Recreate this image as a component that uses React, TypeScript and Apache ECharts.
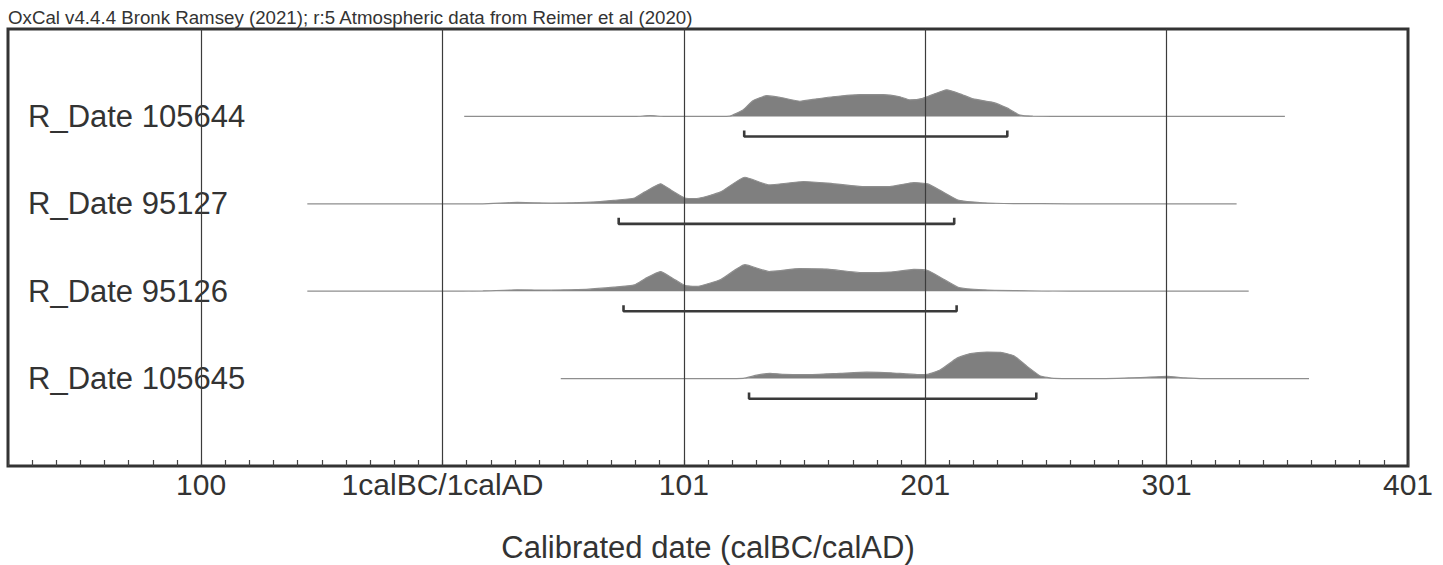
import React, { useEffect, useRef } from "react";
import * as echarts from "echarts";

// ---- data ----
const TITLE_TEXT =
  "OxCal v4.4.4 Bronk Ramsey (2021); r:5 Atmospheric data from Reimer et al (2020)";
const AXIS_NAME = "Calibrated date (calBC/calAD)";

// x axis: years relative to the 1calBC/1calAD boundary
const X_MIN = -180;
const X_MAX = 400;
const TICK_VALUES = [-100, 0, 100, 200, 300, 400];
const TICK_LABELS = ["100", "1calBC/1calAD", "101", "201", "301", "401"];

const ROW_LABELS = ["R_Date 105644", "R_Date 95127", "R_Date 95126", "R_Date 105645"];
const ROW_POSITIONS = [4, 3, 2, 1];

// relative probability (peak = 1) at calendar year
const DIST_105644: [number, number][] = [
  [9, 0], [80, 0], [86, 0.03], [92, 0], [115, 0], [119, 0.01], [124.5, 0.24],
  [128.6, 0.59], [134.4, 0.78], [139.8, 0.72], [148.1, 0.57], [155.1, 0.66],
  [161.8, 0.74], [173, 0.82], [182.5, 0.82], [189.5, 0.74], [193.7, 0.62],
  [199, 0.68], [209, 1.0], [214.4, 0.85], [219.8, 0.66], [228, 0.53],
  [233.8, 0.32], [239.2, 0.05], [244.6, 0.01], [260, 0], [349, 0],
];
const DIST_95127: [number, number][] = [
  [-56, 0], [0, 0], [16.7, 0], [31, 0.05], [45, 0.03], [59.6, 0.05], [71, 0.13],
  [79.6, 0.22], [83.9, 0.45], [90.3, 0.75], [95.3, 0.48], [100.3, 0.22],
  [105.3, 0.2], [115.3, 0.45], [125.3, 1.0], [135.3, 0.71], [149.6, 0.84],
  [159.6, 0.78], [173.9, 0.65], [185.3, 0.65], [195.3, 0.8], [201, 0.75],
  [206.7, 0.48], [213.9, 0.13], [223.9, 0.04], [236.7, 0.01], [260, 0], [329, 0],
];
const DIST_95126: [number, number][] = [
  [-56, 0], [0, 0], [16.7, 0.01], [31, 0.05], [45, 0.04], [59.6, 0.07], [71, 0.15],
  [79.6, 0.24], [83.9, 0.47], [90.3, 0.74], [95.3, 0.49], [100.3, 0.22],
  [105.3, 0.18], [115.3, 0.44], [125.3, 1.0], [135.3, 0.74], [148, 0.85],
  [159.6, 0.83], [173.9, 0.7], [185.3, 0.72], [195.3, 0.82], [201, 0.78],
  [206.7, 0.5], [213.9, 0.14], [223.9, 0.05], [236.7, 0.02], [260, 0], [334, 0],
];
const DIST_105645: [number, number][] = [
  [49, 0], [116, 0], [124.6, 0.01], [130.2, 0.13], [135.7, 0.2], [141.2, 0.16],
  [150.9, 0.15], [164.8, 0.2], [175.8, 0.24], [185.5, 0.22], [196.6, 0.15],
  [201, 0.16], [206.3, 0.33], [213.2, 0.77], [218.7, 0.94], [225.6, 1.0],
  [231.2, 0.99], [236.7, 0.86], [242.2, 0.46], [247.7, 0.1], [253.3, 0.01],
  [270, 0], [289.2, 0.04], [300.3, 0.08], [307.2, 0.03], [315.5, 0], [359, 0],
];
const DISTRIBUTIONS = [DIST_105644, DIST_95127, DIST_95126, DIST_105645];

// 95.4% ranges (brackets)
const HPD_FROM = [125, 73, 75, 127];
const HPD_TO = [234, 212, 213, 246];

// ---- styling ----
const FONT = "'Liberation Sans', Arial, sans-serif";
const INK = "#333333";
const PEAK = 0.304; // row units for a relative probability of 1
const BRACKET_DROP = 0.23;
const BRACKET_TICK = 0.07;

export default function App() {
  const ref = useRef<HTMLDivElement>(null);

  useEffect(() => {
    if (!ref.current) return;
    const chart = echarts.init(ref.current, null, { renderer: "svg" });

    const series: any[] = [];

    DISTRIBUTIONS.forEach((dist, i) => {
      const base = ROW_POSITIONS[i];
      series.push({
        type: "line",
        name: ROW_LABELS[i],
        data: dist.map(([x, p]) => [x, base + p * PEAK]),
        symbol: "none",
        smooth: 0.15,
        lineStyle: { color: "#8e8e8e", width: 1.2 },
        areaStyle: { color: "#7f7f7f", opacity: 1, origin: base },
        z: 2,
        silent: true,
      });
      const yb = base - BRACKET_DROP;
      series.push({
        type: "line",
        name: ROW_LABELS[i] + " range",
        data: [
          [HPD_FROM[i], yb + BRACKET_TICK],
          [HPD_FROM[i], yb],
          [HPD_TO[i], yb],
          [HPD_TO[i], yb + BRACKET_TICK],
        ],
        symbol: "none",
        lineStyle: { color: "#3a3a3a", width: 2.6 },
        z: 3,
        silent: true,
      });
    });

    // vertical grid lines at the labelled years
    series.push({
      type: "line",
      data: [[TICK_VALUES[0], 0]],
      symbol: "none",
      z: 6,
      silent: true,
      markLine: {
        silent: true,
        symbol: "none",
        label: { show: false },
        lineStyle: { color: "#3c3c3c", width: 1.2, type: "solid" },
        data: TICK_VALUES.slice(0, -1).map((v) => ({ xAxis: v })),
        animation: false,
      },
    });

    chart.setOption({
      animation: false,
      backgroundColor: "#ffffff",
      title: {
        text: TITLE_TEXT,
        left: 8,
        top: 8,
        padding: 0,
        textStyle: { fontFamily: FONT, fontSize: 18.7, fontWeight: "normal", color: INK },
      },
      grid: {
        left: 8,
        right: 35,
        top: 29,
        bottom: 99,
        containLabel: false,
        outerBoundsMode: "none",
        show: true,
        borderColor: "#333333",
        borderWidth: 3,
        backgroundColor: "transparent",
      },
      xAxis: {
        type: "value",
        min: X_MIN,
        max: X_MAX,
        interval: 10,
        axisLine: { show: false },
        axisTick: { show: true, inside: true, length: 6, lineStyle: { color: "#444", width: 1.2 } },
        splitLine: { show: false },
        axisLabel: {
          show: true,
          margin: 3,
          fontFamily: FONT,
          fontSize: 30,
          color: INK,
          showMinLabel: true,
          showMaxLabel: true,
          formatter: (v: number) => {
            const k = TICK_VALUES.indexOf(Math.round(v));
            return k >= 0 ? TICK_LABELS[k] : "";
          },
        },
        name: AXIS_NAME,
        nameLocation: "middle",
        nameGap: 66,
        nameTextStyle: { fontFamily: FONT, fontSize: 31, color: INK },
      },
      yAxis: {
        type: "value",
        min: 0,
        max: 5,
        interval: 1,
        axisLine: { show: false },
        axisTick: { show: false },
        splitLine: { show: false },
        axisLabel: {
          inside: true,
          margin: 20,
          fontFamily: FONT,
          fontSize: 31,
          color: INK,
          formatter: (v: number) => {
            const k = ROW_POSITIONS.indexOf(Math.round(v));
            return k >= 0 ? ROW_LABELS[k] : "";
          },
        },
        z: 4,
      },
      series,
    });

    return () => chart.dispose();
  }, []);

  return (
    <div
      ref={ref}
      style={{ position: "fixed", left: 0, top: 0, width: 1443, height: 565, background: "#fff" }}
    />
  );
}
